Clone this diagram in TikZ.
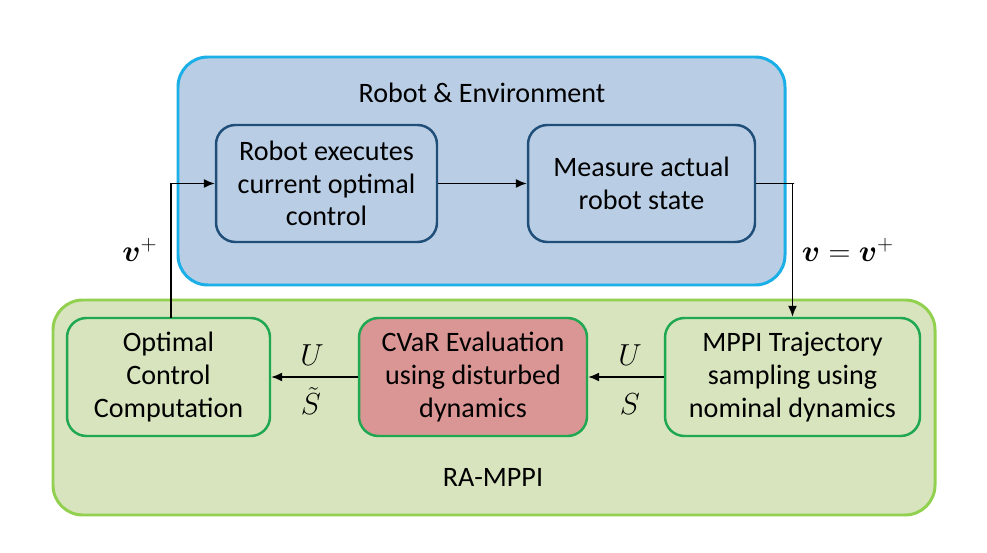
\documentclass[tikz,border=0pt]{standalone}
\usepackage{amsmath}
\usepackage{amssymb}
\usepackage{bm}
\usepackage{fontspec}
\setmainfont{Carlito}
\usepackage{tikz}
\usetikzlibrary{arrows.meta, positioning, calc}

\definecolor{envfill}{HTML}{B9CDE5}
\definecolor{envdraw}{HTML}{1AAFE6}
\definecolor{blkdraw}{HTML}{1F4E79}
\definecolor{rafill}{HTML}{D7E4BD}
\definecolor{radraw}{HTML}{92D050}
\definecolor{stepdraw}{HTML}{1FA851}
\definecolor{cvarfill}{HTML}{DA9694}

\begin{document}
\begin{tikzpicture}[x=0.02cm, y=-0.02cm,
        outer/.style={rectangle, rounded corners=17pt, draw, line width=1.7pt},
        envbox/.style={rectangle, rounded corners=11pt, draw=blkdraw, line width=1.4pt, fill=envfill, minimum width=4.42cm, minimum height=2.34cm, align=center, font=\fontsize{16}{18.6}\selectfont},
        stepbox/.style={rectangle, rounded corners=11pt, draw=stepdraw, line width=1.4pt, fill=rafill, minimum height=2.36cm, align=center, font=\fontsize{16}{18.6}\selectfont},
        arrowline/.style={-{Latex[length=2.2mm, width=1.8mm]}, line width=0.8pt},
        lbl/.style={font=\fontsize{16}{18}\selectfont, inner sep=1pt},
        sig/.style={font=\fontsize{18}{20}\selectfont, inner sep=1pt}
    ]
        \useasboundingbox (0,0) rectangle (987,553);
        % groups
        \draw[outer, draw=envdraw, fill=envfill] (178,57) rectangle (785,285);
        \draw[outer, draw=radraw, fill=rafill] (53,300) rectangle (935,515);
        \node[lbl] (envtitle) at (482,93) {Robot \& Environment};
        \node[lbl] (ratitle) at (493,477) {RA-MPPI};
        % blocks
        \node[envbox] (exec) at (326.5,183.5) {Robot executes\\current optimal\\control};
        \node[envbox, minimum width=4.54cm] (meas) at (641.5,183.5) {Measure actual\\robot state};
        \node[stepbox, minimum width=4.06cm] (optc) at (168.5,377) {Optimal\\Control\\Computation};
        \node[stepbox, minimum width=4.56cm, fill=cvarfill] (cvar) at (473,377) {CVaR Evaluation\\using disturbed\\dynamics};
        \node[stepbox, minimum width=5.1cm] (mppi) at (792.5,377) {MPPI Trajectory\\sampling using\\nominal dynamics};
        % signals
        \draw[arrowline] (exec.east) -- (meas.west);
        \draw[arrowline] (meas.east) -- ++(38,0) -| (mppi.north);
        \draw[arrowline] (mppi.west) -- (cvar.east);
        \draw[arrowline] (cvar.west) -- (optc.east);
        \draw[arrowline] (171,318) |- (exec.west);
        \node[sig] (vplus) at (140,250) {$\bm{v}^{+}$};
        \node[sig] (vset) at (848,250) {$\bm{v}=\bm{v}^{+}$};
        \node[sig] (u1) at (312,355) {$U$};
        \node[sig] (s1) at (311,401) {$\tilde{S}$};
        \node[sig] (u2) at (630,355) {$U$};
        \node[sig] (s2) at (630,404) {$S$};
    \end{tikzpicture}
\end{document}
